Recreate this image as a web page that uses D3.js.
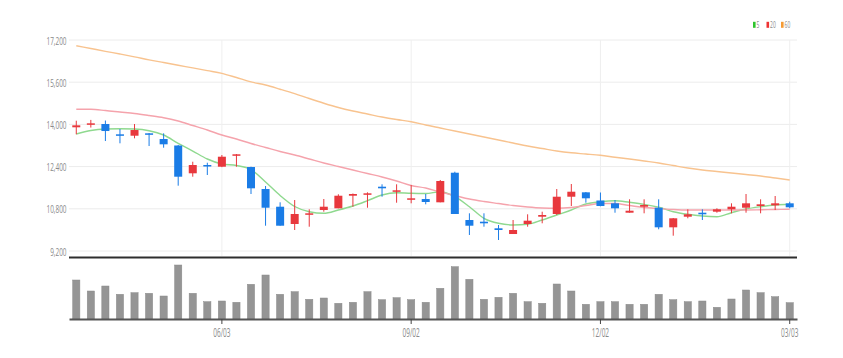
<!DOCTYPE html>
<html>
<head>
<meta charset="utf-8">
<script src="https://cdn.jsdelivr.net/npm/d3@7/dist/d3.min.js"></script>
<style>
  html, body { margin: 0; padding: 0; background: #ffffff; }
  svg { display: block; }
  text { font-family: "Open Sans", "DejaVu Sans", sans-serif; }
</style>
</head>
<body>
<svg id="chart" width="843" height="358"></svg>
<script>
// ---------------- DATA ----------------
const dates = [
  "2024-03-25","2024-04-01","2024-04-08","2024-04-15","2024-04-22","2024-04-29","2024-05-06","2024-05-13","2024-05-20","2024-05-27",
  "2024-06-03","2024-06-10","2024-06-17","2024-06-24","2024-07-01","2024-07-08","2024-07-15","2024-07-22","2024-07-29","2024-08-05",
  "2024-08-12","2024-08-19","2024-08-26","2024-09-02","2024-09-09","2024-09-16","2024-09-23","2024-09-30","2024-10-07","2024-10-14",
  "2024-10-21","2024-10-28","2024-11-04","2024-11-11","2024-11-18","2024-11-25","2024-12-02","2024-12-09","2024-12-16","2024-12-23",
  "2024-12-30","2025-01-06","2025-01-13","2025-01-20","2025-01-27","2025-02-03","2025-02-10","2025-02-17","2025-02-24","2025-03-03"
];
const openP = [
  13890,14000,14015,13624,13571,13662,13446,13200,12146,12460,
  12396,12813,12384,11550,10879,10224,10576,10754,10819,11296,
  11334,11638,11448,11145,11171,11046,12168,10375,10311,10061,
  9844,10224,10500,10603,11258,11425,11115,11008,10652,10879,
  10841,10098,10500,10652,10690,10781,10841,10906,10932,11008
];
const highP = [
  14140,14170,14147,13825,14015,13673,13662,13220,12585,12547,
  12839,12877,12396,11664,11046,11133,10781,11171,11350,11380,
  11425,11729,11729,11702,11361,11892,12206,10629,10629,10186,
  10375,10591,10690,11550,11740,11437,11418,11133,11160,11160,
  11160,10451,10781,10781,10819,11008,11361,11160,11285,11069
];
const lowP = [
  13625,13880,13370,13283,13472,13180,13116,11676,12017,12081,
  12380,12396,11361,10159,10159,9996,10121,10690,10819,10879,
  10841,11258,11031,11008,10970,11046,10603,9807,10121,9617,
  9844,10121,10250,10565,10906,11031,10895,10652,10652,10629,
  10023,9780,10440,10375,10652,10629,10652,10629,10754,10819
];
const closeP = [
  13965,14041,13749,13571,13787,13609,13245,12017,12460,12411,
  12775,12866,11577,10841,10159,10603,10629,10879,11296,11361,
  11387,11577,11501,11198,11058,11854,10603,10159,10250,9996,
  9996,10349,10565,11258,11448,11198,10906,10819,10728,10944,
  10098,10440,10591,10591,10781,10879,11008,10970,11008,10857
];
const volume = [
  39000,28000,33000,24700,26300,25700,23000,54000,25700,17300,
  18000,16700,34700,44000,24700,27300,19700,21000,15700,16700,
  27300,19300,21300,19300,16700,30700,52300,39700,19700,21700,
  25700,17300,15700,35000,28000,14700,17300,17300,14700,14700,
  24700,19300,17300,18000,11700,20000,29000,26300,22300,16300
];
const ma5 = [
  13635,13768,13825,13836,13825,13761,13598,13283,12991,12688,
  12498,12441,12290,11816,11304,10887,10690,10629,10754,10906,
  11107,11323,11410,11387,11380,11448,11259,10879,10440,10250,
  10186,10212,10375,10565,10754,10982,11069,11107,11046,10970,
  10857,10690,10591,10527,10500,10652,10792,10879,10944,10970
];
const ma20 = [
  14572,14572,14526,14469,14413,14337,14253,14128,13958,13787,
  13598,13446,13275,13124,12972,12839,12688,12536,12403,12271,
  12138,12005,11854,11683,11588,11437,11304,11171,11077,11001,
  10925,10868,10830,10819,10849,10925,11001,11001,10925,10849,
  10811,10773,10754,10754,10754,10754,10754,10762,10773,10781
];
const ma60 = [
  16983,16877,16771,16668,16562,16448,16346,16244,16141,16039,
  15937,15777,15611,15493,15334,15167,14981,14803,14640,14507,
  14394,14280,14185,14102,13977,13863,13749,13635,13522,13408,
  13294,13181,13086,12991,12923,12877,12828,12756,12688,12612,
  12536,12441,12347,12271,12214,12157,12100,12043,11967,11892
];
const priceTicks = [9200, 10800, 12400, 14000, 15600, 17200];
const tickDates = ["2024-06-03", "2024-09-02", "2024-12-02", "2025-03-03"];
const legendLabels = ["5", "20", "60"];

// ---------------- STYLE ----------------
const UP = "#e8383d", DOWN = "#1a7ce6";
const lineColors = ["#8fd98f", "#f5a3ac", "#f8c38f"];
const legendColors = ["#2ec52e", "#ee3333", "#f59a33"];
const TXT = "#8a8a8a";

const svg = d3.select("#chart");
const L = 69, R = 797;

const x = d3.scaleBand().domain(dates).range([L, R]).paddingInner(0.45).paddingOuter(0.225);
const cx = d => x(d) + x.bandwidth() / 2;
const y = d3.scaleLinear().domain([9200, 17200]).range([251, 40]);
const yv = d3.scaleLinear().domain([0, 60000]).range([319, 259]);

// horizontal grid
svg.append("g").selectAll("line").data(priceTicks).join("line")
  .attr("x1", L).attr("x2", R)
  .attr("y1", d => y(d)).attr("y2", d => y(d))
  .attr("stroke", "#ececec").attr("stroke-width", 1);
// vertical grid
svg.append("g").selectAll("line").data(tickDates).join("line")
  .attr("x1", d => cx(d)).attr("x2", d => cx(d))
  .attr("y1", 40).attr("y2", 256)
  .attr("stroke", "#efefef").attr("stroke-width", 1);

// y axis
const yAxis = svg.append("g").attr("transform", `translate(${L},0)`)
  .call(d3.axisLeft(y).tickValues(priceTicks).tickFormat(d3.format(",")).tickSize(0));
yAxis.select(".domain").remove();
yAxis.selectAll("text")
  .attr("x", 0).attr("dy", "0.35em")
  .attr("transform", "translate(-2.5,0) scale(0.56,1)")
  .attr("fill", TXT).attr("font-size", 11.5).attr("text-anchor", "end");

// MA lines
const maSeries = [ma5, ma20, ma60];
maSeries.forEach((s, k) => {
  const line = d3.line().x((d, i) => cx(dates[i])).y(d => y(d)).curve(d3.curveMonotoneX);
  svg.append("path").datum(s).attr("d", line)
    .attr("fill", "none").attr("stroke", lineColors[k]).attr("stroke-width", 1.4);
});

// candles
const idx = d3.range(dates.length);
const cg = svg.append("g");
cg.selectAll("line.wick").data(idx).join("line").attr("class", "wick")
  .attr("x1", i => cx(dates[i])).attr("x2", i => cx(dates[i]))
  .attr("y1", i => y(highP[i])).attr("y2", i => y(lowP[i]))
  .attr("stroke", i => closeP[i] >= openP[i] ? UP : DOWN).attr("stroke-width", 1);
cg.selectAll("rect.body").data(idx).join("rect").attr("class", "body")
  .attr("x", i => x(dates[i]))
  .attr("width", x.bandwidth())
  .attr("y", i => y(Math.max(openP[i], closeP[i])))
  .attr("height", i => Math.max(1.5, Math.abs(y(openP[i]) - y(closeP[i]))))
  .attr("fill", i => closeP[i] >= openP[i] ? UP : DOWN);

// separator
svg.append("line").attr("x1", L).attr("x2", R).attr("y1", 257.5).attr("y2", 257.5)
  .attr("stroke", "#2e2e2e").attr("stroke-width", 2);

// volume bars
svg.append("g").selectAll("rect").data(idx).join("rect")
  .attr("x", i => cx(dates[i]) - x.bandwidth() * 0.45)
  .attr("width", x.bandwidth() * 0.9)
  .attr("y", i => yv(volume[i]))
  .attr("height", i => yv(0) - yv(volume[i]))
  .attr("fill", "#959595").attr("stroke", "#8a8a8a").attr("stroke-width", 0.5);

// x axis
const xAxis = svg.append("g").attr("transform", `translate(0,${yv(0)})`)
  .call(d3.axisBottom(x).tickValues(tickDates)
    .tickFormat(d => d.slice(5).replace("-", "/")).tickSize(5).tickSizeOuter(0));
xAxis.select(".domain").attr("stroke", "#555").attr("stroke-width", 2);
xAxis.selectAll(".tick line").attr("stroke", "#444");
xAxis.selectAll("text")
  .attr("y", 0).attr("dy", "0.35em")
  .attr("transform", "translate(0,14) scale(0.52,1)")
  .attr("fill", TXT).attr("font-size", 12.5);

// legend
const lg = svg.append("g").attr("transform", "translate(753,25)");
const lx = [0, 13.5, 28];
legendLabels.forEach((t, k) => {
  lg.append("rect").attr("x", lx[k]).attr("y", -3.2).attr("width", 2.6).attr("height", 6)
    .attr("fill", legendColors[k]);
  lg.append("text").attr("x", 0).attr("y", 0).attr("dy", "0.35em")
    .attr("transform", `translate(${lx[k] + 3.6},0) scale(0.55,1)`)
    .attr("font-size", 9).attr("fill", TXT).text(t);
});
</script>
</body>
</html>
